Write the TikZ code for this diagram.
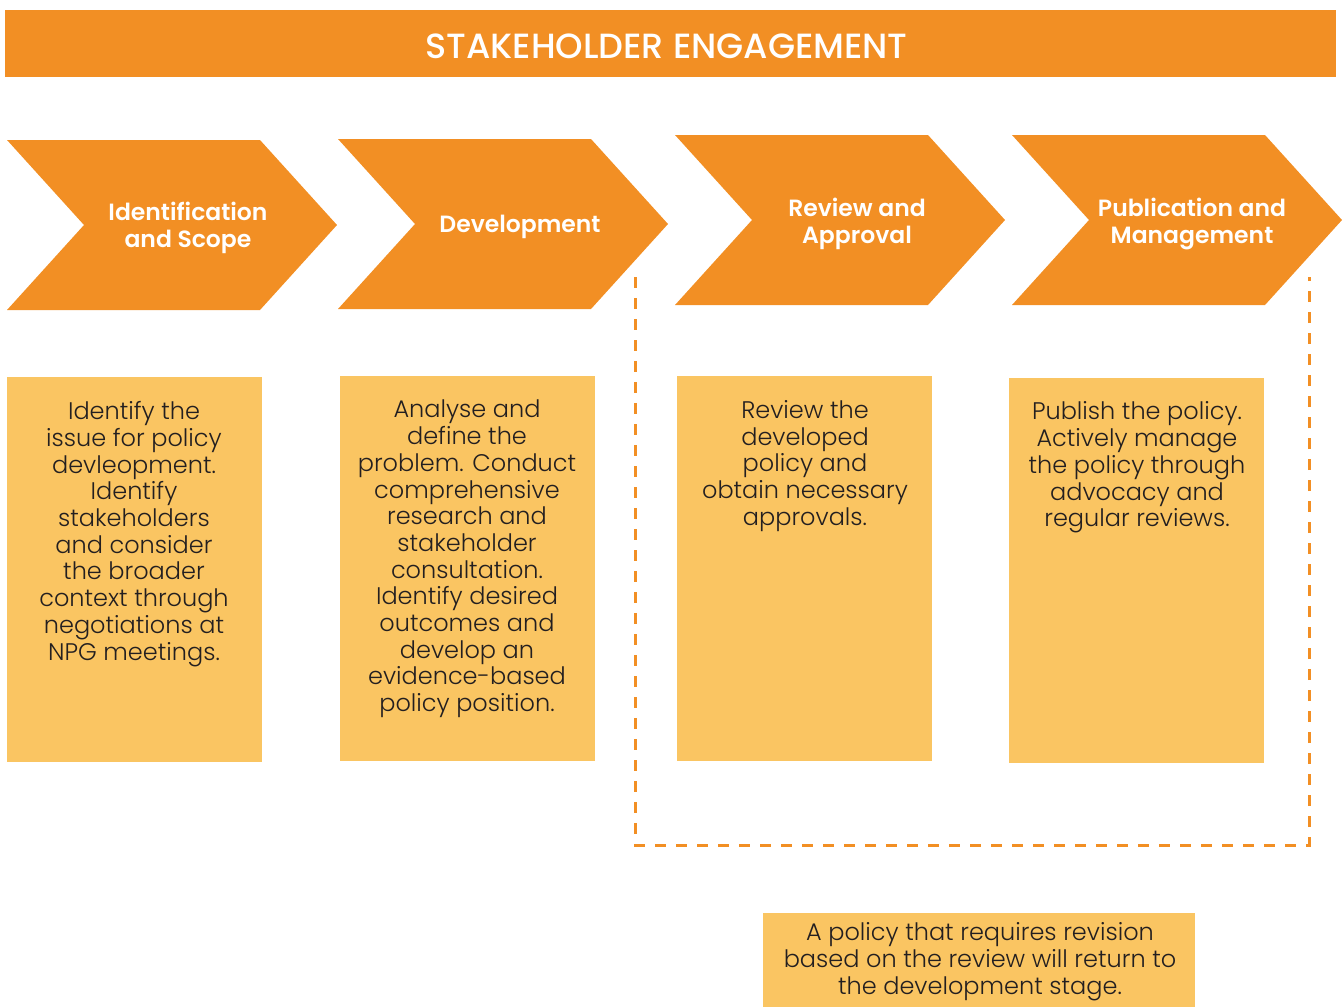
\documentclass[tikz,border=0pt]{standalone}
\usepackage{fontspec}
\setmainfont{Poppins}
\IfFontExistsTF{Poppins Light}{\newfontfamily\bodyfont{Poppins Light}}{\newfontfamily\bodyfont{Poppins}}
\IfFontExistsTF{Poppins Medium}{\newfontfamily\titlefont{Poppins Medium}}{\newfontfamily\titlefont{Poppins}}
\IfFontExistsTF{Poppins SemiBold}{\newfontfamily\labfont{Poppins SemiBold}}{\newfontfamily\labfont{Poppins}[FakeBold=1.5]}
\definecolor{orangeM}{HTML}{F28F24}
\definecolor{lightO}{HTML}{FAC562}
\definecolor{darkT}{HTML}{231F20}
\begin{document}
\begin{tikzpicture}[x=1pt,y=-1pt,
  chev/.style={fill=orangeM, draw=none},
  boxs/.style={fill=lightO, draw=none, rectangle, inner sep=0pt, minimum width=255pt, minimum height=385pt},
  body/.style={font=\bodyfont\fontsize{24}{26.7}\selectfont, text=darkT, align=center, inner sep=0pt},
  lab/.style={font=\labfont\fontsize{23.5}{26.5}\selectfont, text=white, align=center, inner sep=0pt},
  dashline/.style={draw=orangeM, line width=3pt, dash pattern=on 11pt off 10pt}]
\useasboundingbox (0,0) rectangle (1344,1007);
% title bar
\node[fill=orangeM, minimum width=1331pt, minimum height=67pt, inner sep=0pt] (title) at (670.5,43.5) {};
\node[text=white, font=\titlefont\fontsize{35}{39}\selectfont, inner sep=0pt] (titletext) at (666.5,46) {STAKEHOLDER ENGAGEMENT};
% chevrons
\fill[chev] (7,140) -- (260,140) -- (337,225) -- (260,310) -- (7,310) -- (84,225) -- cycle;
\fill[chev] (338,139) -- (591,139) -- (668,224) -- (591,309) -- (338,309) -- (415,224) -- cycle;
\fill[chev] (675,135) -- (928,135) -- (1005,220) -- (928,305) -- (675,305) -- (752,220) -- cycle;
\fill[chev] (1012,135) -- (1265,135) -- (1342,220) -- (1265,305) -- (1012,305) -- (1089,220) -- cycle;
\node[lab] (l1) at (188,228) {Identification\\and Scope};
\node[lab] (l2) at (520,227) {Development};
\node[lab] (l3) at (857,224) {Review and\\Approval};
\node[lab] (l4) at (1192,224) {Publication and\\Management};
% dashed bracket
\coordinate (dtl) at (635,277);
\coordinate (dbl) at (635,845);
\coordinate (dbr) at (1309,845);
\coordinate (dtr) at (1309,277);
\draw[dashline] (dtl) -- (dbl) -- (dbr) -- (dtr);
% boxes
\node[boxs] (b1) at (134.5,569.5) {};
\node[boxs] (b2) at (467.5,568.5) {};
\node[boxs] (b3) at (804.5,568.5) {};
\node[boxs] (b4) at (1136.5,570.5) {};
\node[body] (t1) at (134,534) {Identify the\\issue for policy\\devleopment.\\Identify\\stakeholders\\and consider\\the broader\\context through\\negotiations at\\NPG meetings.};
\node[body] (t2) at (467,559) {Analyse and\\define the\\problem. Conduct\\comprehensive\\research and\\stakeholder\\consultation.\\Identify desired\\outcomes and\\develop an\\evidence-based\\policy position.};
\node[body] (t3) at (805,466) {Review the\\developed\\policy and\\obtain necessary\\approvals.};
\node[body] (t4) at (1137,467.5) {Publish the policy.\\Actively manage\\the policy through\\advocacy and\\regular reviews.};
% note
\node[fill=lightO, minimum width=432pt, minimum height=94pt, inner sep=0pt] (nb) at (979,960) {};
\node[body] (nt) at (980,961.5) {A policy that requires revision\\based on the review will return to\\the development stage.};
\end{tikzpicture}
\end{document}
